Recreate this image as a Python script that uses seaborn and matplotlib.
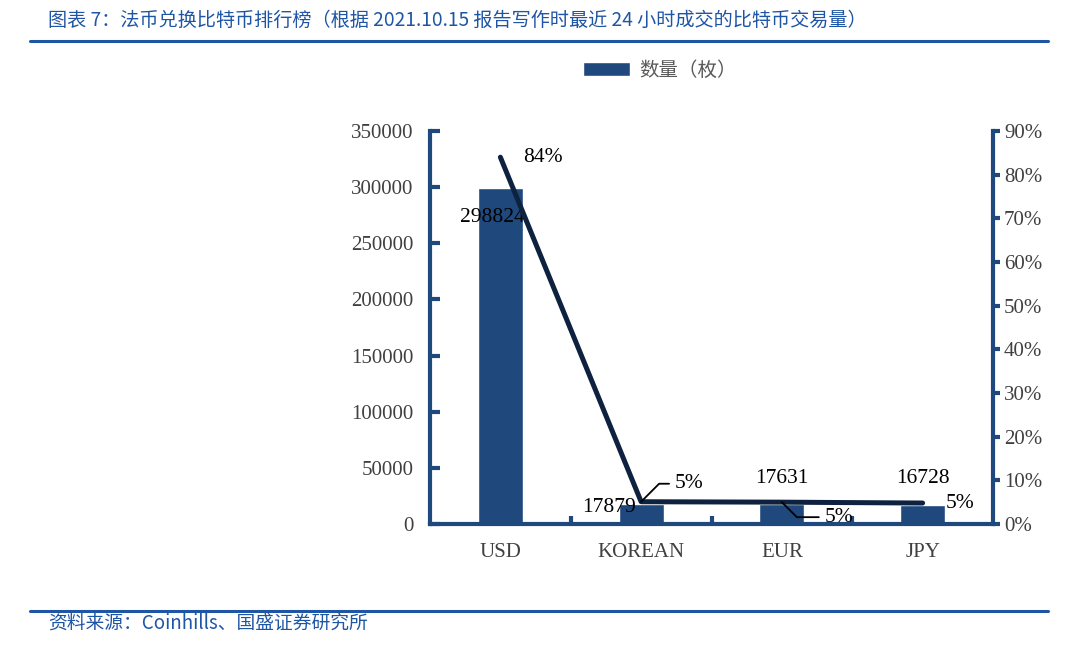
import matplotlib
matplotlib.use("Agg")
import matplotlib.pyplot as plt
import seaborn as sns
import pandas as pd
from matplotlib.ticker import FuncFormatter, FixedLocator

# ---- data ----
categories = ["USD", "KOREAN", "EUR", "JPY"]
volume = [298824, 17879, 17631, 16728]
share = [0.84, 0.051, 0.050, 0.048]
share_labels = ["84%", "5%", "5%", "5%"]
left_ticks = [0, 50000, 100000, 150000, 200000, 250000, 300000, 350000]
right_ticks = [0.0, 0.1, 0.2, 0.3, 0.4, 0.5, 0.6, 0.7, 0.8, 0.9]

title = "图表 7：法币兑换比特币排行榜（根据 2021.10.15 报告写作时最近 24 小时成交的比特币交易量）"
source = "资料来源：Coinhills、国盛证券研究所"
legend_label = "数量（枚）"

sns.set_theme(style="white")
plt.rcParams["font.family"] = ["Noto Sans CJK SC", "DejaVu Sans"]

BAR = "#1f497d"
LINE = "#0e2240"
SPINE = "#1f497d"
TXT = "#404040"
BLUE = "#1f55a5"
SERIF = ["Liberation Serif", "DejaVu Serif"]

df = pd.DataFrame({"cat": categories, "vol": volume, "share": share})

fig = plt.figure(figsize=(10.8, 6.48), dpi=100)
ax = fig.add_axes([430 / 1080, 1 - 524 / 648, (993 - 430) / 1080, (524 - 131) / 648])
sns.barplot(data=df, x="cat", y="vol", color=BAR, width=0.32, saturation=1,
            ax=ax, label=legend_label, zorder=2)
if ax.get_legend() is not None:
    ax.get_legend().remove()
ax.set_xlim(-0.5, 3.5)
ax.set_ylim(0, 350000)
ax.yaxis.set_major_locator(FixedLocator(left_ticks))
ax.yaxis.set_major_formatter(FuncFormatter(lambda v, p: f"{int(v)}"))
ax.set_xlabel("")
ax.set_ylabel("")

ax2 = ax.twinx()
sns.lineplot(data=df, x="cat", y="share", color=LINE, linewidth=3.6, ax=ax2,
             sort=False, zorder=3)
ax2.set_ylim(0, 0.9)
ax2.yaxis.set_major_locator(FixedLocator(right_ticks))
ax2.yaxis.set_major_formatter(FuncFormatter(lambda v, p: f"{v*100:.0f}%"))
ax2.set_ylabel("")
ax2.set_xlim(-0.5, 3.5)

for a in (ax, ax2):
    a.spines["top"].set_visible(False)
    for s in ("left", "right", "bottom"):
        a.spines[s].set_color(SPINE)
        a.spines[s].set_linewidth(3)

ax.spines["right"].set_visible(False)
ax2.spines["left"].set_visible(False)
ax2.spines["bottom"].set_visible(False)

# x ticks: boundaries between categories, pointing in
ax.set_xticks(range(len(categories)))
ax.set_xticklabels(categories)
ax.set_xticks([0.5, 1.5, 2.5], minor=True)
ax.tick_params(axis="x", which="major", length=0, pad=14, labelsize=15, labelcolor=TXT)
ax.tick_params(axis="x", which="minor", direction="in", length=6, width=3, color=SPINE, bottom=True)
ax.tick_params(axis="y", direction="in", length=7, width=3, color=SPINE, left=True,
               labelsize=15, labelcolor=TXT, pad=12)
ax2.tick_params(axis="y", direction="out", length=5, width=3, color=SPINE, right=True,
                labelsize=15, labelcolor=TXT, pad=3)
for lbl in ax.get_xticklabels() + ax.get_yticklabels() + ax2.get_yticklabels():
    lbl.set_fontfamily(SERIF)

# bar labels
bar_offsets = [(-8, -29, "center"), (-5, -4, "right"), (0, 26, "center"), (0, 27, "center")]
for i, (v, (dx, dy, ha)) in enumerate(zip(volume, bar_offsets)):
    ax.annotate(f"{v}", xy=(i, v), xytext=(dx, dy), textcoords="offset pixels",
                ha=ha, va="center", fontsize=15.5, color="black", family=SERIF, zorder=5)

# line labels
line_offsets = [(23, 0, None), (34, 18, 45), (43, -15, -45), (23, 0, None)]
for i, (s, lab, (dx, dy, ang)) in enumerate(zip(share, share_labels, line_offsets)):
    kw = {}
    if ang is not None:
        kw["arrowprops"] = dict(arrowstyle="-", color="black", lw=1.3,
                                connectionstyle=f"angle,angleA=0,angleB={ang},rad=0",
                                shrinkA=2, shrinkB=0)
    ax2.annotate(lab, xy=(i, s), xytext=(dx, dy), textcoords="offset pixels",
                 ha="left", va="center", fontsize=15.5, color="black", family=SERIF,
                 zorder=6, **kw)

# legend
handles, labels = ax.get_legend_handles_labels()
leg = fig.legend(handles, labels, loc="center", bbox_to_anchor=(660 / 1080, 1 - 70 / 648),
                 frameon=False, fontsize=14, handlelength=2.4, handleheight=0.7,
                 handletextpad=0.5)
for t in leg.get_texts():
    t.set_color("#595959")

# title, source and rules
fig.text(48 / 1080, 1 - 20 / 648, title, fontsize=13.8, color=BLUE, ha="left", va="center")
fig.text(48 / 1080, 1 - 623 / 648, source, fontsize=13.5, color=BLUE, ha="left", va="center")
fig.add_artist(plt.Line2D([30 / 1080, 1048 / 1080], [1 - 41 / 648] * 2, color=BLUE, lw=2.2))
fig.add_artist(plt.Line2D([30 / 1080, 1048 / 1080], [1 - 611 / 648] * 2, color=BLUE, lw=2.2))

fig.savefig("out.png", dpi=100)
